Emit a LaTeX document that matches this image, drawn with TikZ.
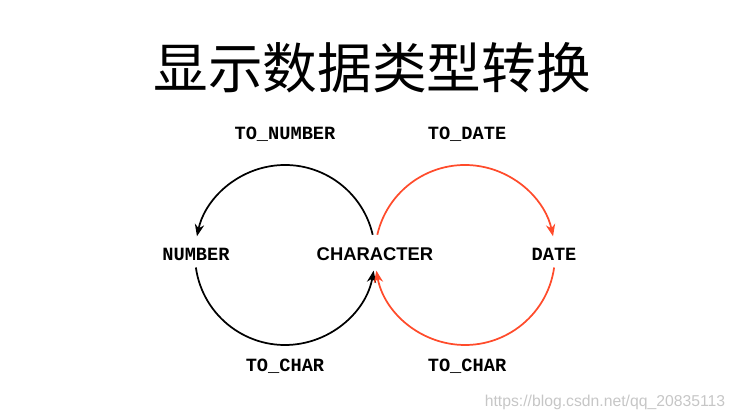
\documentclass[tikz,border=0pt]{standalone}
\usepackage{fontspec}
\newfontfamily\cjk{Noto Sans CJK SC}
\newfontfamily\mono{Liberation Mono}
\newfontfamily\sans{Liberation Sans}
\usetikzlibrary{arrows.meta}
\definecolor{myred}{HTML}{FF4B2B}
\definecolor{tipred}{HTML}{F06464}
\tikzset{
  lbl/.style={font=\mono\bfseries\fontsize{14}{16}\selectfont, inner sep=1pt},
  conv/.style={line width=1.3pt, -{Stealth[length=9pt,width=7pt]}},
}
\begin{document}
\begin{tikzpicture}[x=0.75pt,y=0.75pt]
\useasboundingbox (0,0) rectangle (735,420);
\node (title) at (372,352) {\cjk\fontsize{41}{46}\selectfont 显示数据类型转换};
\node[lbl] (tonum) at (285,286) {TO\_NUMBER};
\node[lbl] (todate) at (467,286) {TO\_DATE};
\node[lbl] (num) at (196,166) {NUMBER};
\node[font=\sans\bfseries\fontsize{13.8}{16}\selectfont] (chr) at (375,166) {CHARACTER};
\node[lbl] (date) at (554,166) {DATE};
\node[lbl] (tochar1) at (285,54) {TO\_CHAR};
\node[lbl] (tochar2) at (467,54) {TO\_CHAR};
\coordinate (bc) at (285,165);
\coordinate (rc) at (465,165);
\draw[conv,black] ([shift={(13:90)}]bc) arc[start angle=13,end angle=168,radius=90];
\draw[conv,black] ([shift={(188:90)}]bc) arc[start angle=188,end angle=350,radius=90];
\draw[conv,myred,-{Stealth[length=9pt,width=7pt,fill=tipred]}] ([shift={(167:90)}]rc) arc[start angle=167,end angle=12,radius=90];
\draw[conv,myred,-{Stealth[length=9pt,width=7pt,fill=tipred]}] ([shift={(352:90)}]rc) arc[start angle=352,end angle=190,radius=90];
\node[text=gray!45,font=\sans\fontsize{11.8}{14}\selectfont] (wm) at (605,18) {https://blog.csdn.net/qq\_20835113};
\end{tikzpicture}
\end{document}
